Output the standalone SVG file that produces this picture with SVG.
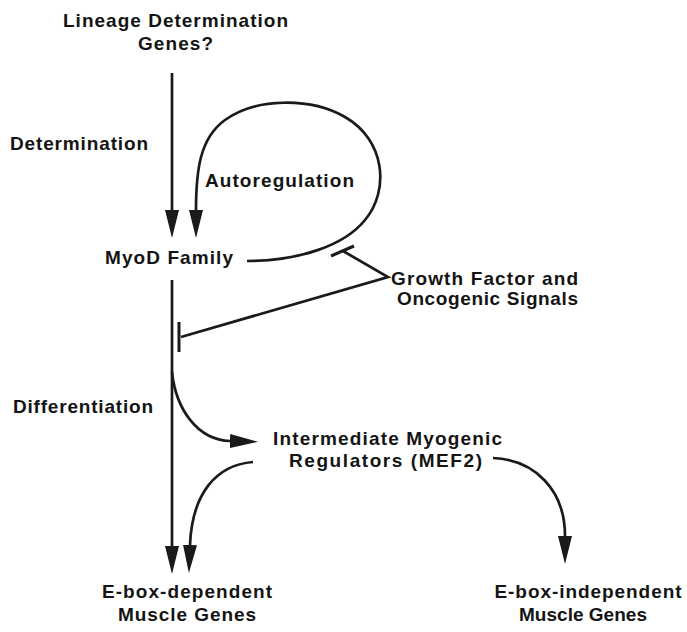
<svg xmlns="http://www.w3.org/2000/svg" width="687" height="632" viewBox="0 0 687 632">
  <style>
    text { font-family: "Liberation Sans", Arial, sans-serif; font-weight: bold; font-size: 19px; fill: #141414; }
    .c { stroke: #1a1a1a; stroke-width: 2.7; fill: none; }
    .bar { stroke: #1a1a1a; stroke-width: 3; fill: none; }
  </style>
  <defs>
    <marker id="arr" markerUnits="userSpaceOnUse" markerWidth="30" markerHeight="16" viewBox="0 -8 30 16" refX="0" refY="0" orient="auto">
      <path d="M0,-7 L28,0 L0,7 z" fill="#1a1a1a"/>
    </marker>
  </defs>
  <rect width="687" height="632" fill="#ffffff"/>

  <g id="lineage"><text x="175.5" y="27" text-anchor="middle" textLength="225" lengthAdjust="spacing">Lineage Determination</text><text x="175.5" y="50" text-anchor="middle" textLength="75" lengthAdjust="spacing">Genes?</text></g>
  <g id="label-determination"><text x="10" y="150" textLength="138" lengthAdjust="spacing">Determination</text></g>
  <g id="label-autoregulation"><text x="205" y="187" textLength="149" lengthAdjust="spacing">Autoregulation</text></g>
  <g id="myod"><text x="105" y="264" textLength="128" lengthAdjust="spacing">MyoD Family</text></g>
  <g id="growth"><text x="391" y="285" textLength="187" lengthAdjust="spacing">Growth Factor and</text><text x="397" y="305" textLength="181" lengthAdjust="spacing">Oncogenic Signals</text></g>
  <g id="label-differentiation"><text x="13" y="413" textLength="140" lengthAdjust="spacing">Differentiation</text></g>
  <g id="mef2"><text x="387.5" y="445" text-anchor="middle" textLength="229" lengthAdjust="spacing">Intermediate Myogenic</text><text x="385.5" y="467" text-anchor="middle" textLength="193" lengthAdjust="spacing">Regulators (MEF2)</text></g>
  <g id="ebox-dep"><text x="187" y="598" text-anchor="middle" textLength="170" lengthAdjust="spacing">E-box-dependent</text><text x="187" y="621" text-anchor="middle" textLength="138" lengthAdjust="spacing">Muscle Genes</text></g>
  <g id="ebox-indep"><text x="588" y="598" text-anchor="middle" textLength="187" lengthAdjust="spacing">E-box-independent</text><text x="583" y="621" text-anchor="middle" textLength="128" lengthAdjust="spacing">Muscle Genes</text></g>

  <g id="connectors">
    <path class="c" d="M172,73 V210" marker-end="url(#arr)"/>
    <path class="c" d="M247,261 C300,261 345,245 365,220 C390,190 385,140 345,117 C310,97 255,98 225,120 C200,138 196,170 196,210" marker-end="url(#arr)"/>
    <path class="c" d="M343,251 L388,277 L181,337"/>
    <path class="bar" d="M331,256 L354,246"/>
    <path class="bar" d="M179,322 V352"/>
    <path class="c" d="M172,280 V546" marker-end="url(#arr)"/>
    <path class="c" d="M172,372 C176,410 198,440 230,441" marker-end="url(#arr)"/>
    <path class="c" d="M253,462 C215,465 192,495 190,545" marker-end="url(#arr)"/>
    <path class="c" d="M493,458 C535,460 565,490 565,536" marker-end="url(#arr)"/>
  </g>
</svg>
